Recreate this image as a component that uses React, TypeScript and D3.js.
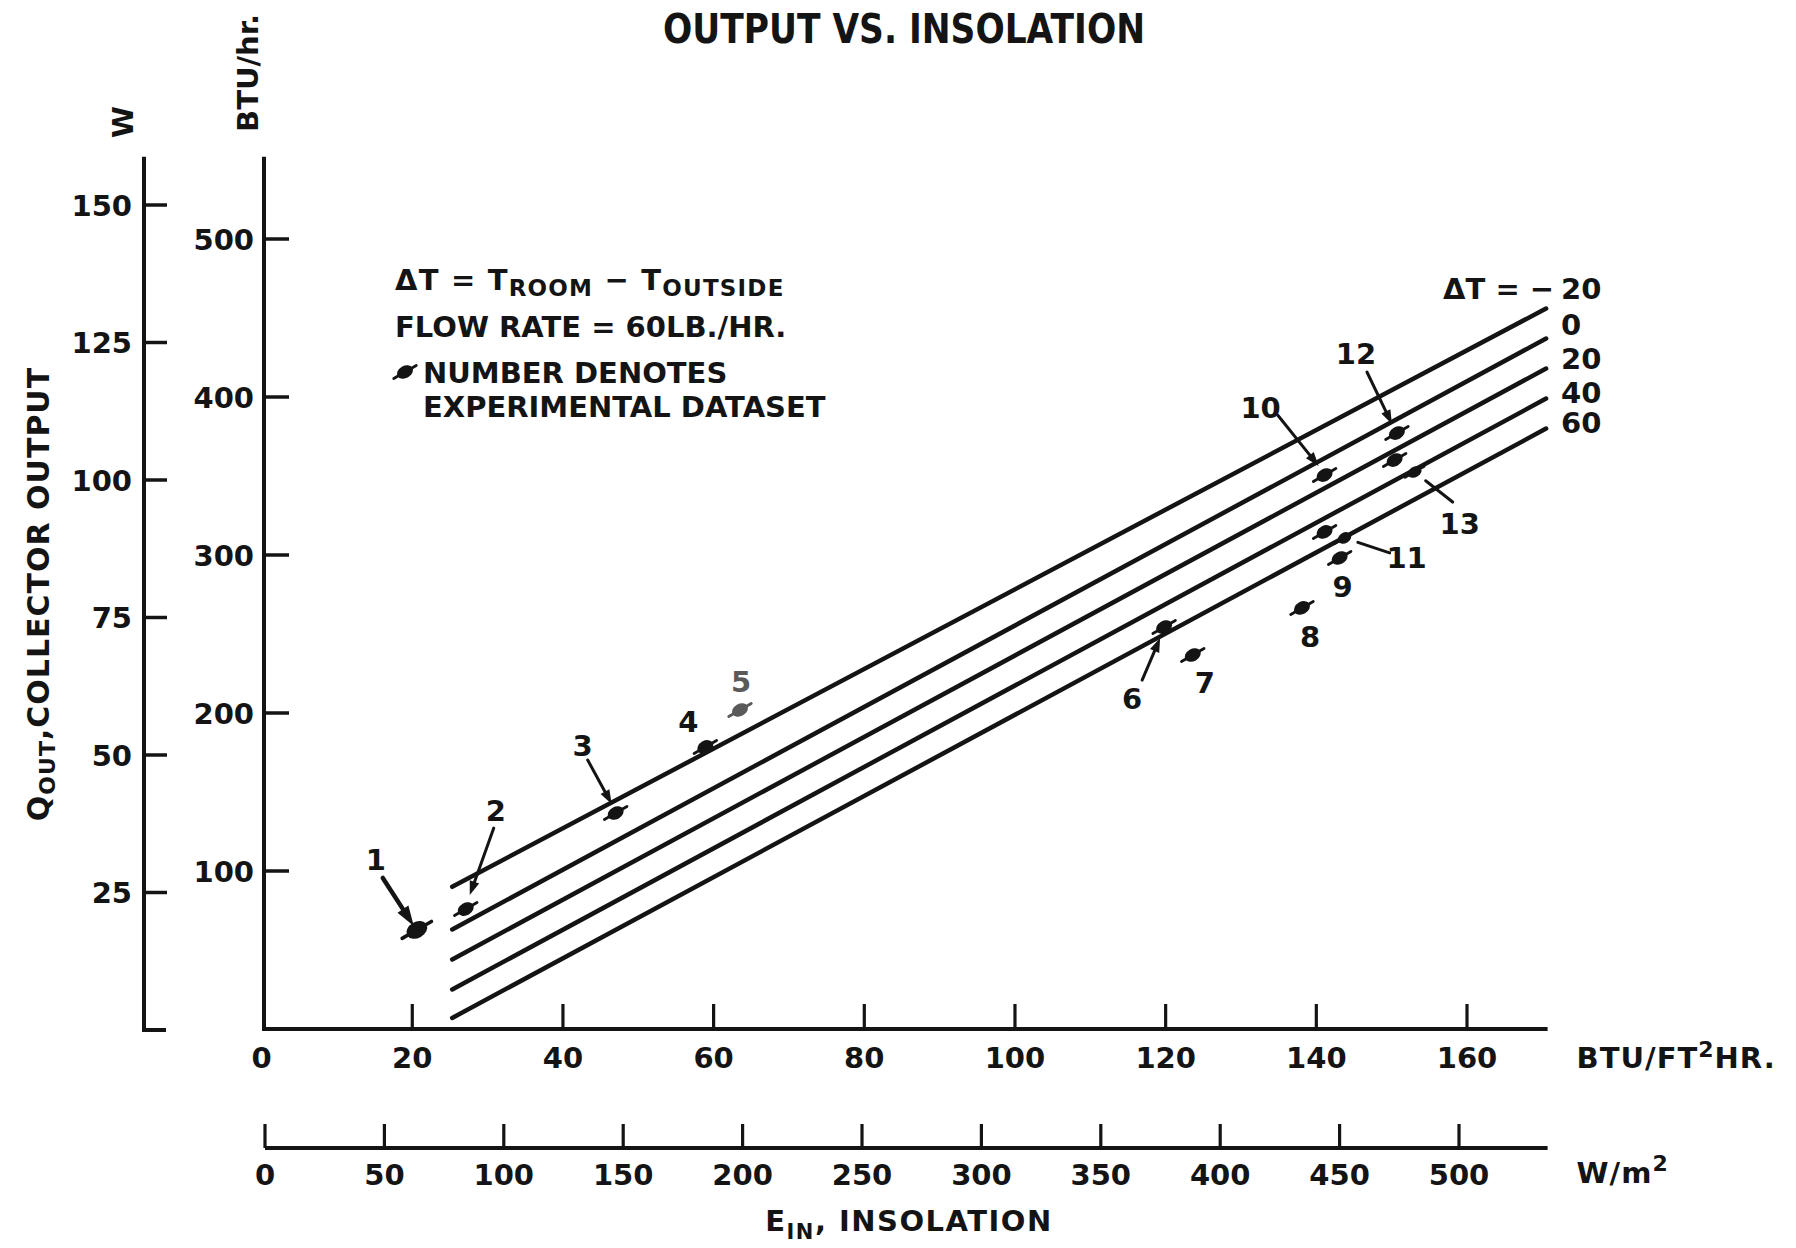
import React from 'react';
import * as d3 from 'd3';

const W = 1796;
const H = 1248;

// ---------- data ----------
const deltaTs = [-20, 0, 20, 40, 60];
const lineStartE = 25.3; // BTU/ft2 hr
const lineEndE = 170.5;
const lineStartQ = [90, 63, 44, 25, 7]; // BTU/hr
const lineEndQ = [456, 437, 418, 399, 380];

const datasetIds = [1, 2, 3, 4, 5, 6, 7, 8, 9, 10, 11, 12, 13];
const datasetE = [20.6, 27.1, 47.0, 58.9, 63.5, 119.8, 123.6, 138.1, 143.1, 141.1, 141.1, 150.7, 150.4];
const datasetQ = [62.7, 75.9, 136.7, 178.5, 201.9, 254.4, 236.7, 266.5, 298.1, 350.6, 314.6, 377.2, 360.1];

const btuHrTicks = [100, 200, 300, 400, 500];
const wattTicks = [25, 50, 75, 100, 125, 150];
const btuFtTicks = [0, 20, 40, 60, 80, 100, 120, 140, 160];
const wm2Ticks = [0, 50, 100, 150, 200, 250, 300, 350, 400, 450, 500];

// ---------- styling / annotation layout (pixel offsets from each marker) ----------
const labelOffsets: [number, number][] = [
  [-41, -70], [30, -99], [-33, -68], [-17, -25], [1, -28], [-32, 71], [12, 27],
  [8, 29], [3, 28], [-64, -68], [82, 26], [-41, -80], [65, 63],
];
// leader: [sx, sy, ex, ey, tip]  (null = no leader)
const leaders: ([number, number, number, number, string] | null)[] = [
  [-34, -52, -3, -4, 'big'],
  [28, -81, 4, -14, 'arrow'],
  [-28, -53, -4, -9, 'arrow'],
  null,
  null,
  [-22, 53, -4, 11, 'arrow'],
  null,
  null,
  null,
  [-47, -60, -6, -9, 'arrow'],
  [65, 21, 20, 6, 'dot'],
  [-30, -61, -5, -9, 'arrow'],
  [58, 42, 20, 12, 'dot'],
];
const lineLabelDy = [-10, -4, 0, 4, 4];

const ink = '#141414';
const FONT = "'DejaVu Sans', 'Liberation Sans', sans-serif";

// ---------- scales ----------
const AXIS_X = 264;
const W_AXIS_X = 144;
const xE = d3.scaleLinear().domain([0, 160]).range([261.6, 1467]);
const xWm2 = d3.scaleLinear().domain([0, 500]).range([265, 1459]);
const yQ = d3.scaleLinear().domain([0, 500]).range([1029, 239]);
const yW = d3.scaleLinear().domain([0, 150]).range([1030, 205]);
const X_AXIS2_Y = 1148;
const AXIS_TOP_Q = 552;
const AXIS_END_E = 170.7;

function Marker({ x, y, fill, s = 1 }: { x: number; y: number; fill: string; s?: number }) {
  return (
    <g transform={`translate(${x},${y}) rotate(-30) scale(${s})`}>
      <ellipse rx={8.5} ry={6.2} fill={fill} />
      <line x1={-13} x2={13} y1={0} y2={0} stroke={fill} strokeWidth={2.8} strokeLinecap="round" />
    </g>
  );
}

function Leader({ x1, y1, x2, y2, tip }: { x1: number; y1: number; x2: number; y2: number; tip: string }) {
  const ang = Math.atan2(y2 - y1, x2 - x1);
  const len = tip === 'big' ? 20 : 14;
  const hw = tip === 'big' ? 6.5 : 5;
  const bx = x2 - len * Math.cos(ang);
  const by = y2 - len * Math.sin(ang);
  const px = -Math.sin(ang) * hw;
  const py = Math.cos(ang) * hw;
  return (
    <g>
      <line x1={x1} y1={y1} x2={bx} y2={by} stroke={ink} strokeWidth={tip === 'big' ? 4.5 : 3} strokeLinecap="round" />
      {tip === 'dot' ? (
        <Marker x={x2} y={y2} fill={ink} s={0.85} />
      ) : (
        <path d={`M${x2},${y2} L${bx + px},${by + py} L${bx - px},${by - py} Z`} fill={ink} />
      )}
    </g>
  );
}

export default function App() {
  const lineGen = d3
    .line<[number, number]>()
    .x((d) => xE(d[0]))
    .y((d) => yQ(d[1]));

  const lineLabelX = xE(lineEndE) + 15;

  return (
    <svg
      width={W}
      height={H}
      viewBox={`0 0 ${W} ${H}`}
      style={{ position: 'absolute', left: 0, top: 0, background: '#fff' }}
      fontFamily={FONT}
      fontWeight="bold"
      fill={ink}
    >
      <rect x={0} y={0} width={W} height={H} fill="#fff" />

      {/* title */}
      <text x={904} y={43} textAnchor="middle" fontSize={40} textLength={482} lengthAdjust="spacingAndGlyphs">
        OUTPUT VS. INSOLATION
      </text>

      {/* W axis */}
      <line x1={W_AXIS_X} x2={W_AXIS_X} y1={yQ(AXIS_TOP_Q)} y2={yW(0)} stroke={ink} strokeWidth={4} />
      <line x1={W_AXIS_X - 2} x2={W_AXIS_X + 22} y1={yW(0)} y2={yW(0)} stroke={ink} strokeWidth={4} />
      {wattTicks.map((t) => (
        <g key={'w' + t}>
          <line x1={W_AXIS_X} x2={W_AXIS_X + 23} y1={yW(t)} y2={yW(t)} stroke={ink} strokeWidth={3.5} />
          <text x={W_AXIS_X - 12} y={yW(t) + 10.5} textAnchor="end" fontSize={29}>
            {t}
          </text>
        </g>
      ))}
      <text transform={`translate(133,122) rotate(-90)`} textAnchor="middle" fontSize={29}>
        W
      </text>

      {/* BTU/hr axis */}
      <line x1={AXIS_X} x2={AXIS_X} y1={yQ(AXIS_TOP_Q)} y2={yQ(0) + 2} stroke={ink} strokeWidth={4} />
      {btuHrTicks.map((t) => (
        <g key={'q' + t}>
          <line x1={AXIS_X} x2={AXIS_X + 25} y1={yQ(t)} y2={yQ(t)} stroke={ink} strokeWidth={3.5} />
          <text x={AXIS_X - 10} y={yQ(t) + 10.5} textAnchor="end" fontSize={29}>
            {t}
          </text>
        </g>
      ))}
      <text transform={`translate(258,73) rotate(-90)`} textAnchor="middle" fontSize={29} textLength={118} lengthAdjust="spacingAndGlyphs">
        BTU/hr.
      </text>

      {/* y-axis title */}
      <text transform={`translate(49,594) rotate(-90)`} textAnchor="middle" fontSize={30} letterSpacing={1}>
        Q<tspan fontSize={22} dy={6}>OUT</tspan>
        <tspan dy={-6}>,COLLECTOR OUTPUT</tspan>
      </text>

      {/* x-axis BTU/ft2 hr */}
      <line x1={AXIS_X - 2} x2={xE(AXIS_END_E)} y1={yQ(0)} y2={yQ(0)} stroke={ink} strokeWidth={4} />
      {btuFtTicks.map((t) => (
        <g key={'e' + t}>
          {t > 0 && <line x1={xE(t)} x2={xE(t)} y1={yQ(0)} y2={yQ(0) - 25} stroke={ink} strokeWidth={3.2} />}
          <text x={xE(t)} y={yQ(0) + 39} textAnchor="middle" fontSize={29}>
            {t}
          </text>
        </g>
      ))}
      <text x={xE(AXIS_END_E) + 29} y={yQ(0) + 39} fontSize={29} letterSpacing={1}>
        BTU/FT<tspan fontSize={22} dy={-11}>2</tspan>
        <tspan dy={11}>HR.</tspan>
      </text>

      {/* x-axis W/m2 */}
      <line x1={xWm2(0)} x2={xE(AXIS_END_E)} y1={X_AXIS2_Y} y2={X_AXIS2_Y} stroke={ink} strokeWidth={4} />
      {wm2Ticks.map((t) => (
        <g key={'m' + t}>
          <line x1={xWm2(t)} x2={xWm2(t)} y1={X_AXIS2_Y} y2={X_AXIS2_Y - 24} stroke={ink} strokeWidth={3.2} />
          <text x={xWm2(t)} y={X_AXIS2_Y + 37} textAnchor="middle" fontSize={29}>
            {t}
          </text>
        </g>
      ))}
      <text x={xE(AXIS_END_E) + 29} y={X_AXIS2_Y + 35} fontSize={29} letterSpacing={1}>
        W/m<tspan fontSize={22} dy={-12}>2</tspan>
      </text>
      <text x={909} y={1231} textAnchor="middle" fontSize={29} letterSpacing={1.5}>
        E<tspan fontSize={21} dy={8}>IN</tspan>
        <tspan dy={-8}>, INSOLATION</tspan>
      </text>

      {/* legend notes */}
      <text x={395} y={290} fontSize={29} letterSpacing={1.2}>
        ΔT = T<tspan fontSize={23} dy={6}>ROOM</tspan>
        <tspan dy={-6}> − T</tspan>
        <tspan fontSize={23} dy={6}>OUTSIDE</tspan>
      </text>
      <text x={395} y={337} fontSize={29}>
        FLOW RATE = 60LB./HR.
      </text>
      <Marker x={405} y={372} fill={ink} />
      <text x={423} y={383} fontSize={29}>
        NUMBER DENOTES
      </text>
      <text x={423} y={417} fontSize={29}>
        EXPERIMENTAL DATASET
      </text>

      {/* ΔT lines */}
      {deltaTs.map((dt, i) => (
        <g key={'dt' + dt}>
          <path
            d={lineGen([
              [lineStartE, lineStartQ[i]],
              [lineEndE, lineEndQ[i]],
            ]) as string}
            fill="none"
            stroke={ink}
            strokeWidth={4.5}
            strokeLinecap="round"
          />
          <text x={lineLabelX} y={yQ(lineEndQ[i]) + lineLabelDy[i]} fontSize={29}>
            {Math.abs(dt)}
          </text>
          {i === 0 && (
            <text x={lineLabelX - 7} y={yQ(lineEndQ[i]) + lineLabelDy[i]} fontSize={29} textAnchor="end">
              ΔT = −
            </text>
          )}
        </g>
      ))}

      {/* datasets */}
      {datasetIds.map((id, i) => {
        const mx = xE(datasetE[i]);
        const my = yQ(datasetQ[i]);
        const col = id === 5 ? '#5a5a5a' : ink;
        const ld = leaders[i];
        return (
          <g key={'p' + id}>
            {ld && <Leader x1={mx + ld[0]} y1={my + ld[1]} x2={mx + ld[2]} y2={my + ld[3]} tip={ld[4]} />}
            <Marker x={mx} y={my} fill={col} s={id === 1 ? 1.3 : 1} />
            <text x={mx + labelOffsets[i][0]} y={my + labelOffsets[i][1] + 10.5} textAnchor="middle" fontSize={29} fill={col}>
              {id}
            </text>
          </g>
        );
      })}
    </svg>
  );
}
